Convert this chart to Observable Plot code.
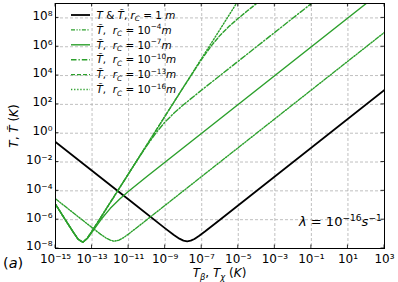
<!DOCTYPE html>
<html><head><meta charset="utf-8">
<script src="https://cdn.jsdelivr.net/npm/d3@7"></script>
<script src="https://cdn.jsdelivr.net/npm/@observablehq/plot@0.6"></script>
<style>body{margin:0;background:#fff} svg{display:block} text{white-space:pre}</style>
</head><body><div id="chart"></div>
<script>
// ---- tick values and labels
const xTicks = [1e-15, 1e-13, 1e-11, 1e-9, 1e-7, 1e-5, 1e-3, 1e-1, 1e1, 1e3];
const xTickLabels = ["10⁻¹⁵","10⁻¹³","10⁻¹¹","10⁻⁹","10⁻⁷","10⁻⁵","10⁻³","10⁻¹","10¹","10³"];
const yTicks = [1e-8, 1e-6, 1e-4, 1e-2, 1, 1e2, 1e4, 1e6, 1e8];
const yTickLabels = ["10⁻⁸","10⁻⁶","10⁻⁴","10⁻²","10⁰","10²","10⁴","10⁶","10⁸"];

// ---- series
const rc1X = [1e-15, 1e-13, 1e-11, 1e-9, 3e-9, 6e-9, 1e-8, 1.6e-8, 2.5e-8, 4e-8, 7e-8, 1.5e-7, 1e-6, 1e3];
const rc1Y = [0.25, 2.5e-3, 2.5e-5, 2.5e-7, 8.6e-8, 4.8e-8, 3.5e-8, 3.16e-8, 3.5e-8, 4.6e-8, 7.4e-8, 1.52e-7, 1e-6, 1e3];

const rc4X = [1e-15, 1e-14, 1e-13, 3e-13, 6e-13, 1e-12, 1.6e-12, 3e-12, 5e-12, 1e-11, 3e-11, 1e-10, 1e3];
const rc4Y = [2.8e-5, 2.8e-6, 2.8e-7, 9.6e-8, 5.2e-8, 3.8e-8, 3.2e-8, 3.8e-8, 5.4e-8, 1.02e-7, 3e-7, 1e-6, 1e7];

const rc7X = [1e-15, 3.16e-15, 1e-14, 1.78e-14, 3.16e-14, 5.6e-14, 1e-13, 3.16e-13, 1e-12, 3.16e-12, 1e-11, 1e-10, 1e2];
const rc7Y = [1.17e-5, 1.17e-6, 1.2e-7, 4.2e-8, 2.7e-8, 5.0e-8, 1.38e-7, 1.06e-6, 6.1e-6, 2.6e-5, 9.4e-5, 1e-3, 1e9];

const rc10X = [1e-15, 3.16e-15, 1e-14, 1.78e-14, 3.16e-14, 5.6e-14, 1e-13, 3.16e-13, 1e-12, 1e-11, 3.16e-11, 1e-10, 3.16e-10, 1e-9, 3.16e-9, 1e-8, 1e-7, 1e-1];
const rc10Y = [1.17e-5, 1.17e-6, 1.2e-7, 4.2e-8, 2.76e-8, 5.4e-8, 1.6e-7, 1.58e-6, 1.58e-5, 1.56e-3, 1.51e-2, 0.137, 1.06, 6.1, 26, 94, 1000, 1e9];

const rc13X = [1e-15, 3.16e-15, 1e-14, 1.78e-14, 3.16e-14, 5.6e-14, 1e-13, 3.16e-13, 1e-12, 1e-10, 1e-8, 1e-7, 3.16e-7, 1e-6, 3.16e-6, 1e-5, 3.16e-5, 1e-4];
const rc13Y = [1.17e-5, 1.17e-6, 1.2e-7, 4.2e-8, 2.76e-8, 5.4e-8, 1.6e-7, 1.58e-6, 1.58e-5, 0.158, 1.56e3, 1.37e5, 1.06e6, 6.1e6, 2.6e7, 9.4e7, 3.1e8, 1e9];

const rc16X = [1e-15, 3.16e-15, 1e-14, 1.78e-14, 3.16e-14, 5.6e-14, 1e-13, 3.16e-13, 1e-12, 1e-10, 1e-8, 7.9e-6];
const rc16Y = [1.17e-5, 1.17e-6, 1.2e-7, 4.2e-8, 2.76e-8, 5.4e-8, 1.6e-7, 1.58e-6, 1.58e-5, 0.158, 1585, 1e9];

const green = "#2ca02c";
const series = [
  {x: rc1X,  y: rc1Y,  color: "#000000", dash: null, width: 1.8},
  {x: rc4X,  y: rc4Y,  color: green, dash: "4,1.5,1.2,1.5,1.2,1.5", width: 1.4},
  {x: rc7X,  y: rc7Y,  color: green, dash: null, width: 1.4},
  {x: rc10X, y: rc10Y, color: green, dash: "5.5,2,1.3,2", width: 1.4},
  {x: rc13X, y: rc13Y, color: green, dash: "4,2", width: 1.4},
  {x: rc16X, y: rc16Y, color: green, dash: "1.3,1.8", width: 1.4}
];
// legend labels: segments (i = italic, sub / sup)
const legendLabels = [
  [{t:"T", i:1},{t:" & "},{t:"T\u0303", i:1},{t:", "},{t:"r", i:1},{t:"C", i:1, sub:1},{t:" = 1 "},{t:"m", i:1}],
  [{t:"T\u0303", i:1},{t:",  "},{t:"r", i:1},{t:"C", i:1, sub:1},{t:" = 10"},{t:"−4", sup:1},{t:"m", i:1}],
  [{t:"T\u0303", i:1},{t:",  "},{t:"r", i:1},{t:"C", i:1, sub:1},{t:" = 10"},{t:"−7", sup:1},{t:"m", i:1}],
  [{t:"T\u0303", i:1},{t:",  "},{t:"r", i:1},{t:"C", i:1, sub:1},{t:" = 10"},{t:"−10", sup:1},{t:"m", i:1}],
  [{t:"T\u0303", i:1},{t:",  "},{t:"r", i:1},{t:"C", i:1, sub:1},{t:" = 10"},{t:"−13", sup:1},{t:"m", i:1}],
  [{t:"T\u0303", i:1},{t:",  "},{t:"r", i:1},{t:"C", i:1, sub:1},{t:" = 10"},{t:"−16", sup:1},{t:"m", i:1}]
];
const xLabel = [{t:"T", i:1},{t:"β", i:1, sub:1},{t:", "},{t:"T", i:1},{t:"χ", i:1, sub:1},{t:" ("},{t:"K", i:1},{t:")"}];
const yLabel = [{t:"T", i:1},{t:", "},{t:"T\u0303", i:1},{t:" ("},{t:"K", i:1},{t:")"}];
const lambdaLabel = [{t:"λ", i:1},{t:" = 10"},{t:"−16", sup:1},{t:"s", i:1},{t:"−1", sup:1}];
const panelLabel = [{t:"("},{t:"a", i:1},{t:")"}];

const font = "DejaVu Sans";
const lineMarks = series.map(s => Plot.line(s.x.map((x, i) => ({x, y: s.y[i]})), {
  x: "x", y: "y", stroke: s.color, strokeWidth: s.width,
  strokeDasharray: s.dash || undefined, clip: true
}));

const plot = Plot.plot({
  width: 398, height: 282,
  marginLeft: 55, marginRight: 14, marginTop: 3, marginBottom: 34,
  style: {fontFamily: font, fontSize: "12px", background: "white", color: "black", overflow: "visible"},
  x: {type: "log", domain: [1e-15, 1e3]},
  y: {type: "log", domain: [1e-8, 1e9]},
  marks: [
    Plot.gridX(xTicks, {stroke: "#b0b0b0", strokeOpacity: 1, strokeWidth: 0.8, strokeDasharray: "3,2"}),
    Plot.gridY(yTicks, {stroke: "#b0b0b0", strokeOpacity: 1, strokeWidth: 0.8, strokeDasharray: "3,2"}),
    ...lineMarks,
    Plot.frame({stroke: "black", strokeWidth: 1}),
    Plot.axisX(xTicks, {anchor: "bottom", tickSize: 0, tickPadding: 6, label: null, fontSize: 12,
      tickFormat: d => xTickLabels[xTicks.indexOf(d)]}),
    Plot.axisY(yTicks, {anchor: "left", tickSize: 0, tickPadding: 3, label: null, fontSize: 12, dy: -2,
      tickFormat: d => yTickLabels[yTicks.indexOf(d)]})
  ]
});
document.getElementById("chart").appendChild(plot);

const svg = d3.select(plot);
const sx = plot.scale("x"), sy = plot.scale("y");
const [X0, X1] = sx.range, [Y0, Y1] = sy.range; // Y0 bottom, Y1 top
const tl = 3.5;
const tg = svg.append("g").attr("stroke", "black").attr("stroke-width", 0.8);
xTicks.forEach(v => {
  const px = sx.apply(v);
  tg.append("line").attr("x1", px).attr("x2", px).attr("y1", Y0).attr("y2", Y0 - tl);
  tg.append("line").attr("x1", px).attr("x2", px).attr("y1", Y1).attr("y2", Y1 + tl);
});
yTicks.forEach(v => {
  const py = sy.apply(v);
  tg.append("line").attr("y1", py).attr("y2", py).attr("x1", X0).attr("x2", X0 + tl);
  tg.append("line").attr("y1", py).attr("y2", py).attr("x1", X1).attr("x2", X1 - tl);
});

function rich(g, x, y, segs, size, anchor) {
  const t = g.append("text").attr("x", x).attr("y", y).attr("font-size", size)
    .attr("font-family", font).attr("fill", "black").attr("text-anchor", anchor || "start");
  let shift = 0;
  for (const s of segs) {
    const target = s.sup ? -0.42 * size : s.sub ? 0.25 * size : 0;
    const ts = t.append("tspan").text(s.t).attr("dy", target - shift);
    shift = target;
    if (s.sup || s.sub) ts.attr("font-size", size * 0.7);
    if (s.i) ts.attr("font-style", "italic");
  }
  return t;
}

// legend
const lg = svg.append("g");
series.forEach((s, i) => {
  const cy = 15 + i * 14.9;
  lg.append("line").attr("x1", 71).attr("x2", 90).attr("y1", cy).attr("y2", cy)
    .attr("stroke", s.color).attr("stroke-width", s.width)
    .attr("stroke-dasharray", s.dash || null);
  rich(lg, 96.5, cy + 3.7, legendLabels[i], 10.4);
});

// annotations
rich(svg, (X0 + X1) / 2, 277, xLabel, 12, "middle");
rich(svg.append("g").attr("transform", "translate(18,126) rotate(-90)"), 0, 0, yLabel, 12, "middle");
rich(svg, 299, 226, lambdaLabel, 13);
rich(svg, 3, 268, panelLabel, 14.5);
</script>
</body></html>
